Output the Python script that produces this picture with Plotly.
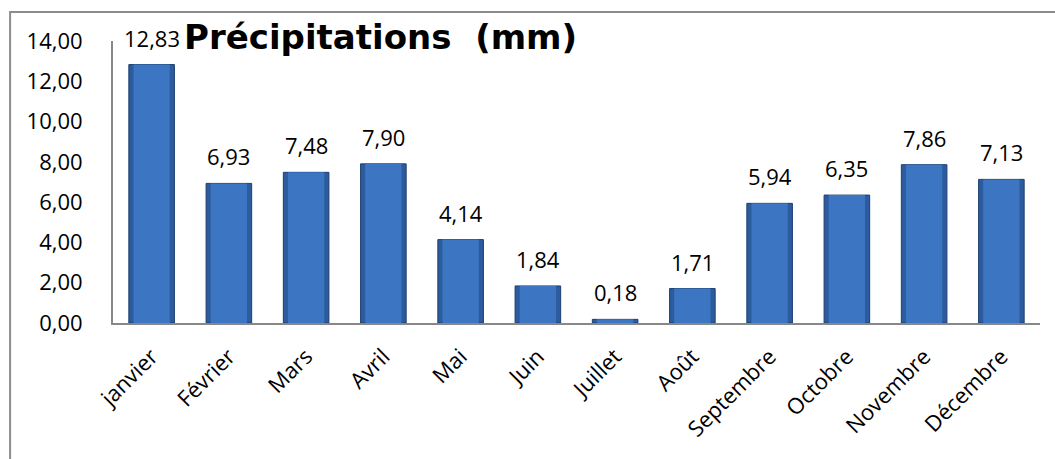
import plotly.graph_objects as go

# Monthly precipitation (mm)
months = ["janvier", "Février", "Mars", "Avril", "Mai", "Juin", "Juillet",
          "Août", "Septembre", "Octobre", "Novembre", "Décembre"]
precip = [12.83, 6.93, 7.48, 7.90, 4.14, 1.84, 0.18, 1.71, 5.94, 6.35, 7.86, 7.13]
y_ticks = [0, 2, 4, 6, 8, 10, 12, 14]

tick_font = dict(family="Open Sans", size=22, color="#000000")

fig = go.Figure()

# dark outer body of each bar
fig.add_trace(go.Bar(
    x=months, y=precip, width=0.59,
    marker=dict(color="#2C5C9E", line=dict(color="#1D3F6E", width=1)),
    hoverinfo="skip", showlegend=False,
))
# lighter inner face for a bevelled look
fig.add_trace(go.Bar(
    x=months, y=precip, width=0.47,
    marker=dict(color="#3C76C3", line=dict(width=0)),
    showlegend=False,
))

# value labels above the bars
for m, v in zip(months, precip):
    fig.add_annotation(
        x=m, y=v, text=f"{v:.2f}".replace(".", ","),
        showarrow=False, yanchor="bottom", yshift=10,
        font=tick_font,
    )

fig.add_annotation(
    xref="paper", yref="paper", x=0.289, y=1.015,
    text="<b>Précipitations  (mm)</b>", showarrow=False,
    xanchor="center", yanchor="middle",
    font=dict(family="DejaVu Sans", size=34, color="#000000"),
)

# outer frame of the chart area
fig.add_shape(
    type="rect", xref="paper", yref="paper",
    x0=-0.111, x1=1.2, y0=-1.0, y1=1.103,
    line=dict(color="#8C8C8C", width=2), fillcolor="rgba(0,0,0,0)",
    layer="below",
)

fig.update_layout(
    width=1055, height=459,
    margin=dict(l=113, r=15, t=41, b=136),
    paper_bgcolor="white", plot_bgcolor="white",
    barmode="overlay",
    separators=", ",
    bargap=0.4,
    xaxis=dict(
        showline=True, linecolor="#888888", linewidth=2,
        tickangle=-45, tickfont=tick_font, ticks="",
        showgrid=False, ticklabelstandoff=10,
    ),
    yaxis=dict(
        range=[0, 14], tickvals=y_ticks, tickformat=".2f",
        showline=True, linecolor="#888888", linewidth=2,
        showgrid=False, ticks="", tickfont=tick_font,
        ticklabelstandoff=24, zeroline=False,
    ),
)

fig.write_html("out.html")
